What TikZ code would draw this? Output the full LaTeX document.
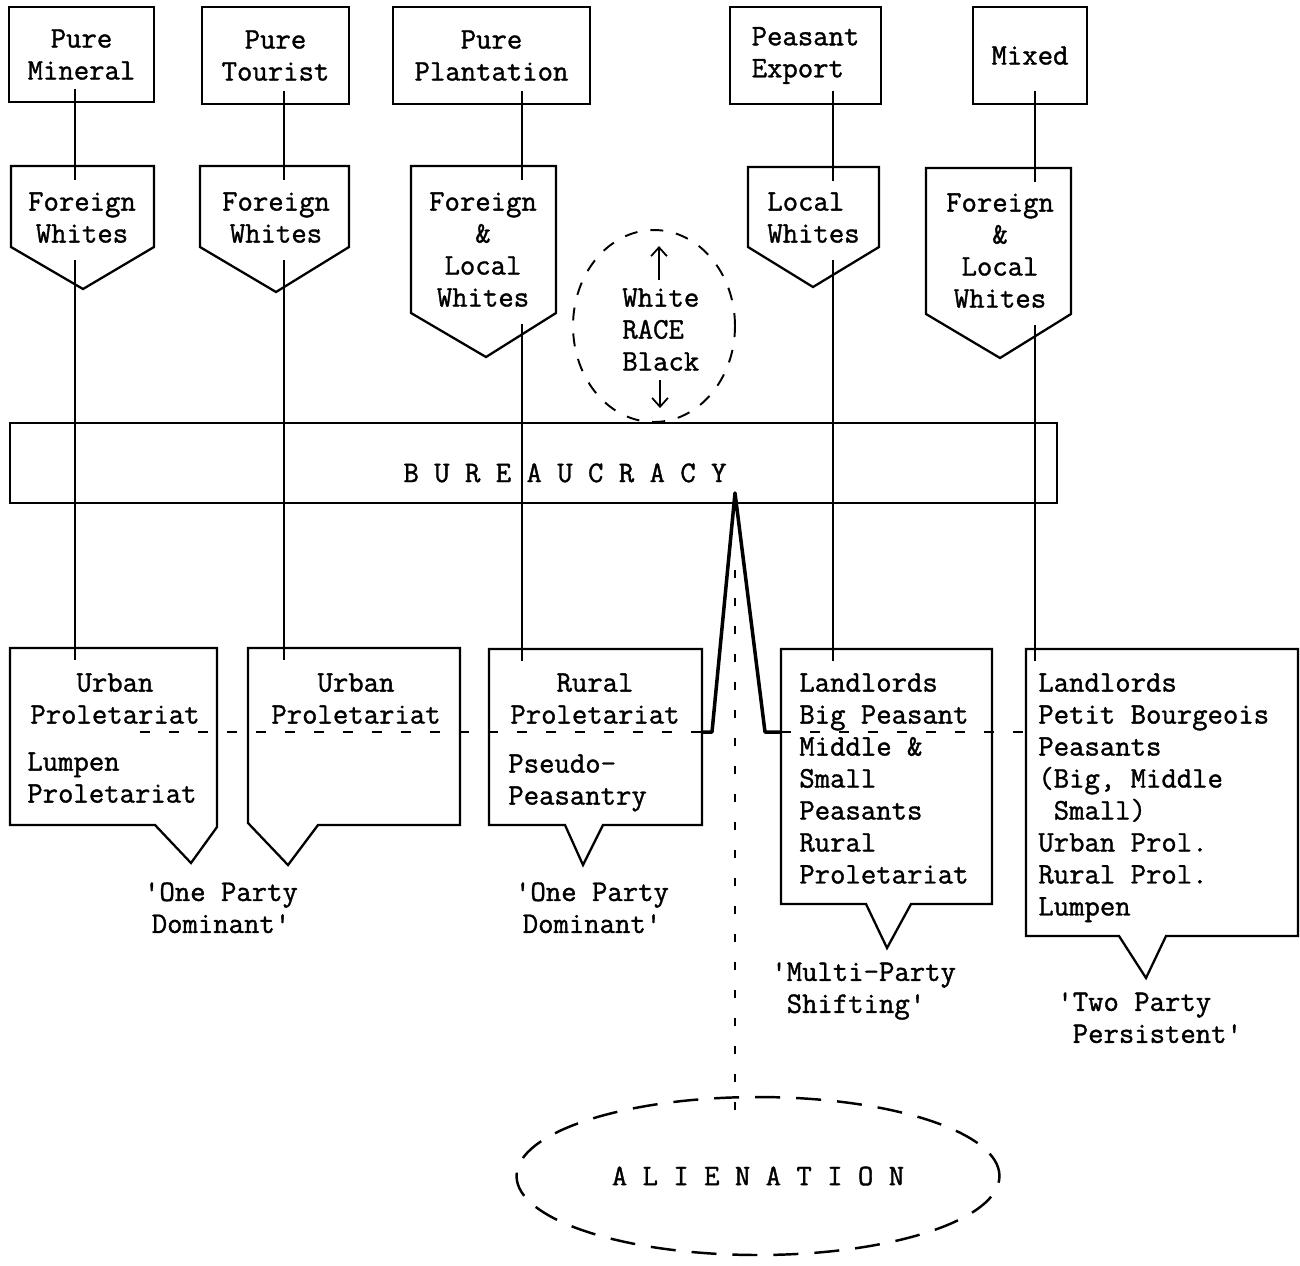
\documentclass[tikz,border=0pt]{standalone}
\usepackage{fontspec}
\setmonofont{Latin Modern Mono}[FakeBold=1.2]
\usetikzlibrary{calc,
	positioning,
	shapes.geometric,
	arrows.meta}

\begin{document}
\begin{tikzpicture}[x=0.02cm, y=-0.02cm,
		font=\ttfamily\fontsize{17}{18.2}\selectfont,
		box/.style={draw, line width=1.1pt, inner sep=0pt, align=center},
		penta/.style={line width=1.3pt},
		callout/.style={line width=1.3pt},
		txt/.style={inner sep=0pt, anchor=north, align=center},
		ltxt/.style={inner sep=0pt, anchor=north west, align=left},
		link/.style={line width=0.9pt},
		divider/.style={line width=0.9pt, dash pattern=on 0.2cm off 0.38cm},
		spike/.style={line width=2pt, line join=round},
		racearrow/.style={line width=1pt, -{Straight Barb[length=5pt, width=9pt]}},
		alink/.style={line width=1.3pt, dash pattern=on 0.16cm off 0.4cm}]
	\useasboundingbox (0,0) rectangle (1300,1265);

	% economies
	\node[box, minimum width=2.9cm, minimum height=1.9cm] (mineral) at (81.5,54.5) {Pure\\Mineral};
	\node[box, minimum width=2.94cm, minimum height=1.94cm] (tourist) at (275.5,55.5) {Pure\\Tourist};
	\node[box, minimum width=3.94cm, minimum height=1.94cm] (plantation) at (491.5,55.5) {Pure\\Plantation};
	\node[box, align=left, minimum width=3.02cm, minimum height=1.94cm] (export) at (805.5,55.5) {Peasant\\Export};
	\node[box, minimum width=2.28cm, minimum height=1.94cm] (mixed) at (1030,55.5) {Mixed};

	% whites
	\draw[penta] (11,166) -- (75,166) coordinate (fw1top) -- (154,166) -- (154,247) -- (83,289) -- (11,247) -- cycle;
	\draw[penta] (200,166) -- (284,166) coordinate (fw2top) -- (349,166) -- (349,247) -- (276,292) -- (200,247) -- cycle;
	\draw[penta] (411,166) -- (522,166) coordinate (fw3top) -- (556,166) -- (556,313) -- (486,357) -- (411,313) -- cycle;
	\draw[penta] (748,167) -- (833,167) coordinate (lw4top) -- (879,167) -- (879,247) -- (813,287) -- (748,247) -- cycle;
	\draw[penta] (926,168) -- (1035,168) coordinate (fw5top) -- (1071,168) -- (1071,314) -- (1000,358) -- (926,314) -- cycle;
	\node[txt] (fw1) at (82,192) {Foreign\\Whites};
	\node[txt] (fw2) at (276,192) {Foreign\\Whites};
	\node[txt] (fw3) at (483,192) {Foreign\\\&\\Local\\Whites};
	\node[ltxt] (lw4) at (767,192) {Local\\Whites};
	\node[txt] (fw5) at (1000,193) {Foreign\\\&\\Local\\Whites};

	% race
	\node[ellipse, draw, line width=1.1pt, dash pattern=on 0.26cm off 0.26cm, minimum width=3.24cm, minimum height=3.84cm, inner sep=0pt] (race) at (654,326) {};
	\node[ltxt] (racetxt) at (622,288) {White\\RACE\\Black};

	% bureaucracy
	\node[draw, line width=1.1pt, minimum width=20.94cm, minimum height=1.6cm, inner sep=0pt] (bur) at (533.5,463) {};
	\node[txt] (burtxt) at (565,463) {B U R E A U C R A C Y};
	\draw[racearrow, shorten <=0.16cm, shorten >=0.34cm] (racetxt.north -| 659,0) -- (race.north -| 659,0);
	\draw[racearrow, shorten <=0.18cm, shorten >=0.28cm] (racetxt.south -| 660,0) -- (bur.north -| 660,0);

	% classes
	\draw[callout] (10,648) -- (75,648) coordinate (ub1top) -- (217,648) -- (217,827) -- (191,863) -- (155,825) -- (10,825) -- cycle;
	\draw[callout] (248,648) -- (284,648) coordinate (ub2top) -- (460,648) -- (460,825) -- (318,825) -- (288,865) -- (248,823) -- cycle;
	\draw[callout] (489,649) -- (522,649) coordinate (rp3top) -- (702,649) -- (702,732) coordinate (rp3east) -- (702,825) -- (603,825) -- (583,865) -- (565,825) -- (489,825) -- cycle;
	\draw[callout] (781,649) -- (833,649) coordinate (ll4top) -- (992,649) -- (992,904) -- (911,904) -- (887,948) -- (866,904) -- (781,904) -- (781,732) coordinate (ll4west) -- cycle;
	\draw[callout] (1026,649) -- (1035,649) coordinate (ll5top) -- (1298,649) -- (1298,936) -- (1166,936) -- (1146,978) -- (1119,936) -- (1026,936) -- cycle;
	\node[txt] (ub1) at (115,673) {Urban\\Proletariat};
	\node[ltxt] (lp1) at (27,752) {Lumpen\\Proletariat};
	\node[txt] (ub2) at (356,673) {Urban\\Proletariat};
	\node[txt] (rp3) at (595,673) {Rural\\Proletariat};
	\node[ltxt] (ps3) at (508,754) {Pseudo-\\Peasantry};
	\node[ltxt] (ll4) at (799,673) {Landlords\\Big Peasant\\Middle \&\\Small\\Peasants\\Rural\\Proletariat};
	\node[ltxt] (ll5) at (1038,673) {Landlords\\Petit Bourgeois\\Peasants\\(Big, Middle\\\phantom{(}Small)\\Urban Prol.\\Rural Prol.\\Lumpen};

	% party systems
	\node[txt] (op1) at (221,882) {'One Party\\Dominant'};
	\node[txt] (op3) at (592,882) {'One Party\\Dominant'};
	\node[ltxt] (mp4) at (771,962) {'Multi-Party\\\phantom{'}Shifting'};
	\node[ltxt] (tp5) at (1057,992) {'Two Party\\\phantom{'}Persistent'};

	\node[ellipse, draw, line width=1.4pt, dash pattern=on 0.5cm off 0.32cm, minimum width=9.66cm, minimum height=3.16cm, inner sep=0pt] (alien) at (758,1176) {A L I E N A T I O N};

	% links
	\draw[link, shorten <=-0.28cm, shorten >=-0.28cm] (mineral.south -| fw1top) -- (fw1top);
	\draw[link, shorten <=-0.28cm, shorten >=-0.28cm] (tourist.south -| fw2top) -- (fw2top);
	\draw[link, shorten <=-0.28cm, shorten >=-0.28cm] (plantation.south -| fw3top) -- (fw3top);
	\draw[link, shorten <=-0.28cm, shorten >=-0.28cm] (export.south -| lw4top) -- (lw4top);
	\draw[link, shorten <=-0.28cm, shorten >=-0.28cm] (mixed.south -| fw5top) -- (fw5top);
	\draw[link, shorten <=0.34cm, shorten >=-0.24cm] (fw1.south -| fw1top) -- (ub1top);
	\draw[link, shorten <=0.34cm, shorten >=-0.24cm] (fw2.south -| fw2top) -- (ub2top);
	\draw[link, shorten <=0.34cm, shorten >=-0.24cm] (fw3.south -| fw3top) -- (rp3top);
	\draw[link, shorten <=0.34cm, shorten >=-0.24cm] (lw4.south -| lw4top) -- (ll4top);
	\draw[link, shorten <=0.34cm, shorten >=-0.24cm] (fw5.south -| fw5top) -- (ll5top);

	% divide and alienation
	\coordinate (peak) at (735,493);
	\draw[divider] (140,732) -- (rp3east);
	\draw[spike] (rp3east) -- (712,732) -- (peak) -- (765,732) -- (ll4west);
	\draw[divider] (ll4west) -- (ll5top |- ll4west);
	\draw[alink, shorten <=1.54cm, shorten >=-0.62cm] (peak) -- (peak |- alien.north);
\end{tikzpicture}
\end{document}
